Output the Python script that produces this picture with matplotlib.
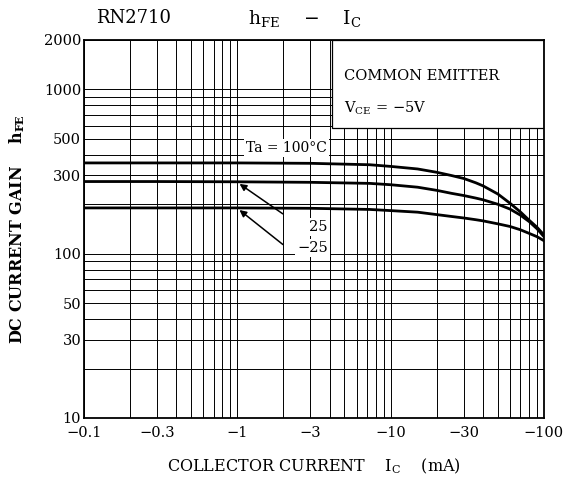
import numpy as np
import matplotlib
matplotlib.use("Agg")
import matplotlib.pyplot as plt
from matplotlib.patches import Rectangle
from matplotlib.ticker import FixedLocator, NullFormatter

plt.rcParams['font.family'] = ['DejaVu Serif']
plt.rcParams['mathtext.fontset'] = 'dejavuserif'

MINUS = '\u2212'

# collector current magnitude (mA) and hFE
ic = [0.1, 0.3, 1, 3, 7.3, 10, 15, 20, 25, 30, 36, 40, 50, 60, 70, 80, 90, 100]
hfe_100 = [357, 357, 357, 355, 348, 340, 328, 313, 299, 287, 270, 259, 231, 203, 180, 160, 145, 130]
hfe_25 = [275, 275, 274, 272, 268, 263, 254, 243, 233, 226, 218, 213, 200, 187, 172, 157, 142, 127]
hfe_m25 = [190, 190, 190, 189, 186, 183, 179, 173, 168.5, 165, 161, 158.5, 152, 146.5, 140, 133, 127, 120]

x_major = [0.1, 0.3, 1, 3, 10, 30, 100]
x_labels = [MINUS + '0.1', MINUS + '0.3', MINUS + '1', MINUS + '3',
            MINUS + '10', MINUS + '30', MINUS + '100']
x_minor = [0.2, 0.4, 0.5, 0.6, 0.7, 0.8, 0.9, 2, 4, 5, 6, 7, 8, 9, 20, 40, 50, 60, 70, 80, 90]
y_major = [10, 30, 50, 100, 300, 500, 1000, 2000]
y_minor = [20, 40, 60, 70, 80, 90, 200, 400, 600, 700, 800, 900]

fig = plt.figure(figsize=(5.69, 4.87), dpi=100)
ax = fig.add_axes([0.1476, 0.1417, 0.8084, 0.7762])
ax.set_xscale('log')
ax.set_yscale('log')
ax.set_xlim(0.1, 100)
ax.set_ylim(10, 2000)

ax.xaxis.set_major_locator(FixedLocator(x_major))
ax.xaxis.set_minor_locator(FixedLocator(x_minor))
ax.set_xticklabels(x_labels)
ax.xaxis.set_minor_formatter(NullFormatter())
ax.yaxis.set_major_locator(FixedLocator(y_major))
ax.yaxis.set_minor_locator(FixedLocator(y_minor))
ax.set_yticklabels([str(v) for v in y_major])
ax.yaxis.set_minor_formatter(NullFormatter())
ax.tick_params(which='both', length=0, labelsize=10.5)
ax.tick_params(axis='x', pad=6)
ax.tick_params(axis='y', pad=2)
ax.set_axisbelow(True)
ax.grid(which='both', color='black', linewidth=0.7)
for s in ax.spines.values():
    s.set_linewidth(1.3)

# white box for the conditions text
ax.add_patch(Rectangle((0.539, 0.767), 0.461, 0.233, transform=ax.transAxes,
                       facecolor='white', edgecolor='black', linewidth=0.9, zorder=2))
ax.text(0.565, 0.905, 'COMMON EMITTER', transform=ax.transAxes, fontsize=10.5,
        va='center', zorder=3)
ax.text(0.565, 0.82, r'$\mathregular{V_{CE}}$ = ' + MINUS + '5V', transform=ax.transAxes,
        fontsize=10.5, va='center', zorder=3)

for h in (hfe_100, hfe_25, hfe_m25):
    ax.plot(ic, h, color='black', linewidth=2.0, zorder=4, solid_joinstyle='round')

ax.text(2.1, 440, 'Ta = 100\u00b0C', fontsize=10, ha='center', va='center', zorder=5,
        bbox=dict(facecolor='white', edgecolor='none', pad=1.5))
ax.text(3.9, 146, '25', fontsize=10.5, ha='right', va='center', zorder=5,
        bbox=dict(facecolor='white', edgecolor='none', pad=1.5))
ax.text(3.9, 108, MINUS + '25', fontsize=10.5, ha='right', va='center', zorder=5,
        bbox=dict(facecolor='white', edgecolor='none', pad=1.5))
arrow = dict(arrowstyle='-|>', color='black', linewidth=1.1, mutation_scale=10)
ax.annotate('', xy=(1.0, 272), xytext=(2.05, 171), arrowprops=arrow, zorder=5)
ax.annotate('', xy=(1.0, 189), xytext=(2.05, 111), arrowprops=arrow, zorder=5)

fig.text(0.235, 0.963, 'RN2710', fontsize=13, ha='center', va='center')
fig.text(0.535, 0.963, r'$\mathregular{h_{FE}}$    ' + MINUS + r'    $\mathregular{I_C}$',
         fontsize=13.5, ha='center', va='center')
ax.set_xlabel(r'COLLECTOR CURRENT    $\mathregular{I_C}$    (mA)', fontsize=11.5, labelpad=12)
ax.set_ylabel(r'DC CURRENT GAIN    $\mathregular{h_{FE}}$', fontsize=11.5,
              fontweight='bold', labelpad=12)

fig.savefig('out.png', dpi=100)
